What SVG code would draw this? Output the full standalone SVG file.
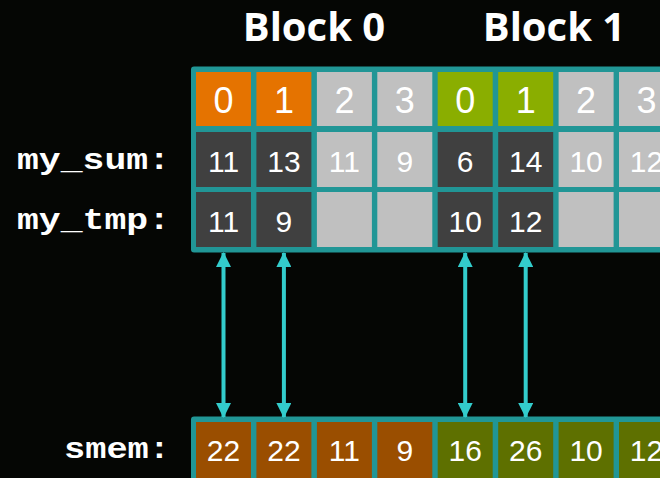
<svg xmlns="http://www.w3.org/2000/svg" width="660" height="478" viewBox="0 0 660 478">
<defs>
<style>
.bg{fill:#050604}
.frame{fill:#219696}
.or{fill:#e57300}
.lg{fill:#8aae00}
.dk{fill:#404040}
.gr{fill:#c0c0c0}
.br{fill:#9a4e00}
.sg{fill:#5e7000}
.n1{font-family:"Liberation Sans",Arial,sans-serif;font-size:36px;fill:#fff;text-anchor:middle}
.n2{font-family:"Liberation Sans",Arial,sans-serif;font-size:30px;fill:#fff;text-anchor:middle}
.lbl{font-family:"Liberation Mono","Courier New",monospace;font-weight:bold;font-size:30px;fill:#fff;text-anchor:end}
.title{font-family:"Open Sans","DejaVu Sans",sans-serif;font-weight:bold;font-size:40px;fill:#fff;text-anchor:middle}
.conn{stroke:#33cccc;stroke-width:4;fill:none}
</style>
<marker id="ah" viewBox="0 0 15 15" refX="14" refY="7.5" markerWidth="15" markerHeight="15" markerUnits="userSpaceOnUse" orient="auto-start-reverse">
<path d="M0,0 L15,7.5 L0,15 Z" fill="#33cccc"/>
</marker>
</defs>
<rect class="bg" x="0" y="0" width="660" height="478"/>

<g id="titles">
<text class="title" x="314" y="41">Block 0</text>
<text class="title" x="554" y="41">Block 1</text>
</g>

<g id="labels">
<text class="lbl" x="170" y="169" textLength="153" lengthAdjust="spacingAndGlyphs">my_sum:</text>
<text class="lbl" x="170" y="229" textLength="153" lengthAdjust="spacingAndGlyphs">my_tmp:</text>
<text class="lbl" x="170" y="458" textLength="106" lengthAdjust="spacingAndGlyphs">smem:</text>
</g>

<g id="grid-frame"><rect class="frame" x="191" y="66.5" width="490" height="186" rx="3"/></g>
<g id="smem-frame"><rect class="frame" x="191" y="416.5" width="490" height="80" rx="3"/></g>

<!-- row 1: thread ids -->
<g id="b0-t0"><rect class="or" x="196" y="72" width="55" height="54"/><text class="n1" x="223.5" y="113">0</text></g>
<g id="b0-t1"><rect class="or" x="256.4" y="72" width="55" height="54"/><text class="n1" x="283.9" y="113">1</text></g>
<g id="b0-t2"><rect class="gr" x="316.9" y="72" width="55" height="54"/><text class="n1" x="344.4" y="113">2</text></g>
<g id="b0-t3"><rect class="gr" x="377.3" y="72" width="55" height="54"/><text class="n1" x="404.8" y="113">3</text></g>
<g id="b1-t0"><rect class="lg" x="437.7" y="72" width="55" height="54"/><text class="n1" x="465.2" y="113">0</text></g>
<g id="b1-t1"><rect class="lg" x="498.2" y="72" width="55" height="54"/><text class="n1" x="525.7" y="113">1</text></g>
<g id="b1-t2"><rect class="gr" x="558.6" y="72" width="55" height="54"/><text class="n1" x="586.1" y="113">2</text></g>
<g id="b1-t3"><rect class="gr" x="619" y="72" width="55" height="54"/><text class="n1" x="646.5" y="113">3</text></g>

<!-- row 2: my_sum -->
<g id="sum-0"><rect class="dk" x="196" y="132" width="55" height="55"/><text class="n2" x="223.5" y="172">11</text></g>
<g id="sum-1"><rect class="dk" x="256.4" y="132" width="55" height="55"/><text class="n2" x="283.9" y="172">13</text></g>
<g id="sum-2"><rect class="gr" x="316.9" y="132" width="55" height="55"/><text class="n2" x="344.4" y="172">11</text></g>
<g id="sum-3"><rect class="gr" x="377.3" y="132" width="55" height="55"/><text class="n2" x="404.8" y="172">9</text></g>
<g id="sum-4"><rect class="dk" x="437.7" y="132" width="55" height="55"/><text class="n2" x="465.2" y="172">6</text></g>
<g id="sum-5"><rect class="dk" x="498.2" y="132" width="55" height="55"/><text class="n2" x="525.7" y="172">14</text></g>
<g id="sum-6"><rect class="gr" x="558.6" y="132" width="55" height="55"/><text class="n2" x="586.1" y="172">10</text></g>
<g id="sum-7"><rect class="gr" x="619" y="132" width="55" height="55"/><text class="n2" x="646.5" y="172">12</text></g>

<!-- row 3: my_tmp -->
<g id="tmp-0"><rect class="dk" x="196" y="192" width="55" height="55"/><text class="n2" x="223.5" y="232">11</text></g>
<g id="tmp-1"><rect class="dk" x="256.4" y="192" width="55" height="55"/><text class="n2" x="283.9" y="232">9</text></g>
<g id="tmp-2"><rect class="gr" x="316.9" y="192" width="55" height="55"/></g>
<g id="tmp-3"><rect class="gr" x="377.3" y="192" width="55" height="55"/></g>
<g id="tmp-4"><rect class="dk" x="437.7" y="192" width="55" height="55"/><text class="n2" x="465.2" y="232">10</text></g>
<g id="tmp-5"><rect class="dk" x="498.2" y="192" width="55" height="55"/><text class="n2" x="525.7" y="232">12</text></g>
<g id="tmp-6"><rect class="gr" x="558.6" y="192" width="55" height="55"/></g>
<g id="tmp-7"><rect class="gr" x="619" y="192" width="55" height="55"/></g>

<!-- smem -->
<g id="smem-0"><rect class="br" x="196" y="422" width="55" height="70"/><text class="n2" x="223.5" y="461">22</text></g>
<g id="smem-1"><rect class="br" x="256.4" y="422" width="55" height="70"/><text class="n2" x="283.9" y="461">22</text></g>
<g id="smem-2"><rect class="br" x="316.9" y="422" width="55" height="70"/><text class="n2" x="344.4" y="461">11</text></g>
<g id="smem-3"><rect class="br" x="377.3" y="422" width="55" height="70"/><text class="n2" x="404.8" y="461">9</text></g>
<g id="smem-4"><rect class="sg" x="437.7" y="422" width="55" height="70"/><text class="n2" x="465.2" y="461">16</text></g>
<g id="smem-5"><rect class="sg" x="498.2" y="422" width="55" height="70"/><text class="n2" x="525.7" y="461">26</text></g>
<g id="smem-6"><rect class="sg" x="558.6" y="422" width="55" height="70"/><text class="n2" x="586.1" y="461">10</text></g>
<g id="smem-7"><rect class="sg" x="619" y="422" width="55" height="70"/><text class="n2" x="646.5" y="461">12</text></g>

<g id="connectors">
<line class="conn" x1="223.5" y1="253" x2="223.5" y2="417" marker-start="url(#ah)" marker-end="url(#ah)"/>
<line class="conn" x1="283.9" y1="253" x2="283.9" y2="417" marker-start="url(#ah)" marker-end="url(#ah)"/>
<line class="conn" x1="465.2" y1="253" x2="465.2" y2="417" marker-start="url(#ah)" marker-end="url(#ah)"/>
<line class="conn" x1="525.7" y1="253" x2="525.7" y2="417" marker-start="url(#ah)" marker-end="url(#ah)"/>
</g>
</svg>
